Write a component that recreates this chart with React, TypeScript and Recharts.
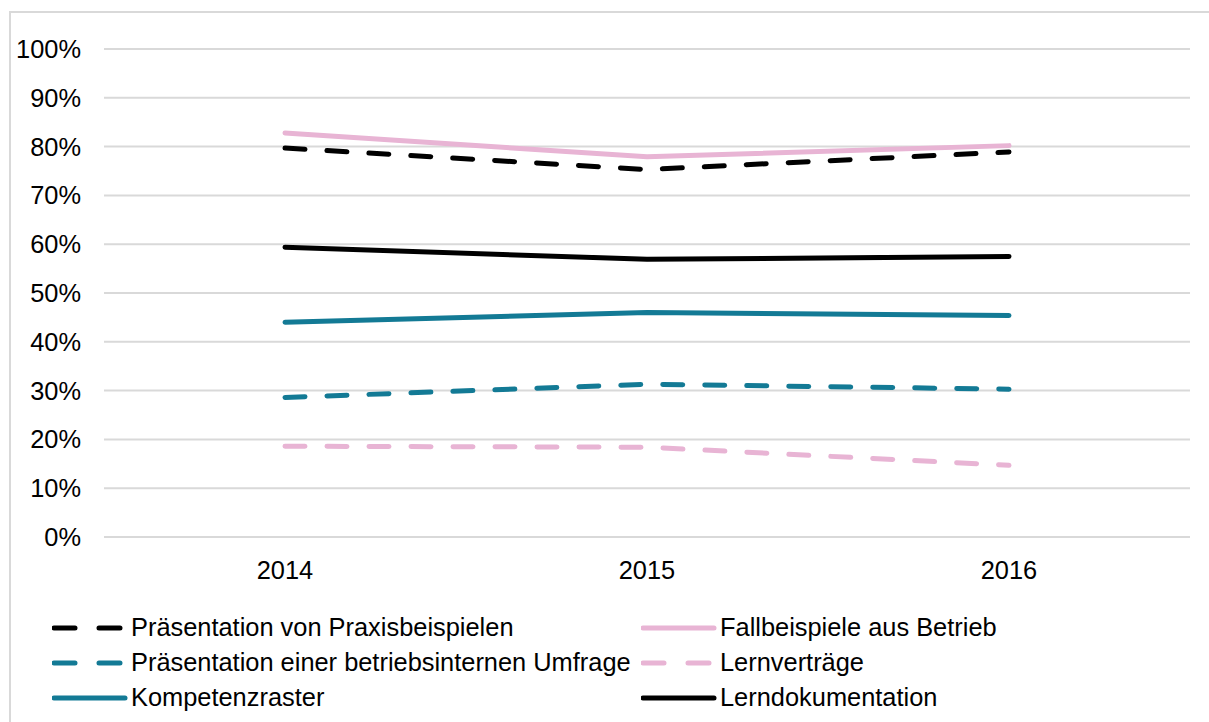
import { LineChart, Line, XAxis, YAxis, CartesianGrid } from 'recharts';

// Jahre (Kategorien)
const years = ['2014', '2015', '2016'];

// Anteile in Prozent
const praxisbeispiele = [79.7, 75.3, 78.9];
const fallbeispiele = [82.8, 77.9, 80.2];
const umfrage = [28.6, 31.3, 30.3];
const lernvertraege = [18.6, 18.4, 14.7];
const kompetenzraster = [44.0, 46.0, 45.4];
const lerndokumentation = [59.4, 56.9, 57.5];

const yTicks = [0, 10, 20, 30, 40, 50, 60, 70, 80, 90, 100];

const colors = {
  black: '#000000',
  pink: '#e8b4d4',
  teal: '#137a95',
  grid: '#d9d9d9',
  text: '#000000',
};

// Reihenfolge = Legende zeilenweise
const series = [
  { key: 'praxis', name: 'Präsentation von Praxisbeispielen', values: praxisbeispiele, color: colors.black, dashed: true },
  { key: 'fall', name: 'Fallbeispiele aus Betrieb', values: fallbeispiele, color: colors.pink, dashed: false },
  { key: 'umfrage', name: 'Präsentation einer betriebsinternen Umfrage', values: umfrage, color: colors.teal, dashed: true },
  { key: 'lernvertraege', name: 'Lernverträge', values: lernvertraege, color: colors.pink, dashed: true },
  { key: 'kompetenz', name: 'Kompetenzraster', values: kompetenzraster, color: colors.teal, dashed: false },
  { key: 'lerndoku', name: 'Lerndokumentation', values: lerndokumentation, color: colors.black, dashed: false },
];

const chartData = years.map((year, i) => {
  const row: Record<string, any> = { year };
  series.forEach((s) => {
    row[s.key] = s.values[i];
  });
  return row;
});

const font = '"Liberation Sans", Arial, sans-serif';
const fontSize = 25.4;

function LegendItem({ s }: { s: (typeof series)[number] }) {
  return (
    <div style={{ display: 'flex', alignItems: 'center', height: 35 }}>
      <svg width={79} height={10}>
        <line
          x1={2}
          y1={5}
          x2={73}
          y2={5}
          stroke={s.color}
          strokeWidth={5}
          strokeLinecap="round"
          strokeDasharray={s.dashed ? '21 24' : undefined}
        />
      </svg>
      <span>{s.name}</span>
    </div>
  );
}

export default function App() {
  return (
    <div
      style={{
        position: 'fixed',
        left: 0,
        top: 0,
        width: 1209,
        height: 722,
        background: '#fff',
        overflow: 'hidden',
        fontFamily: font,
      }}
    >
      <div
        style={{
          position: 'absolute',
          left: 9,
          top: 11,
          width: 1220,
          height: 730,
          border: `2px solid ${colors.grid}`,
        }}
      />
      <div style={{ position: 'absolute', left: 0, top: 0 }}>
        <LineChart width={1209} height={600} data={chartData} margin={{ top: 49, right: 19, left: 0, bottom: 0 }}>
          <CartesianGrid vertical={false} stroke={colors.grid} strokeWidth={2} />
          <XAxis
            dataKey="year"
            padding={{ left: 181, right: 181 }}
            axisLine={{ stroke: colors.grid, strokeWidth: 2 }}
            tickLine={false}
            tickSize={0}
            tickMargin={24}
            height={63}
            tick={{ fill: colors.text, fontSize, fontFamily: font }}
          />
          <YAxis
            domain={[0, 100]}
            ticks={yTicks}
            interval={0}
            width={104}
            axisLine={false}
            tickLine={false}
            tickSize={0}
            tickMargin={23}
            tickFormatter={(v) => `${v}%`}
            tick={{ fill: colors.text, fontSize, fontFamily: font }}
          />
          {series.map((s) => (
            <Line
              key={s.key}
              type="linear"
              dataKey={s.key}
              name={s.name}
              stroke={s.color}
              strokeWidth={5}
              strokeLinecap="round"
              strokeDasharray={s.dashed ? '20 22' : undefined}
              dot={false}
              activeDot={false}
              isAnimationActive={false}
            />
          ))}
        </LineChart>
      </div>
      <div
        style={{
          position: 'absolute',
          left: 52,
          top: 610,
          display: 'grid',
          gridTemplateColumns: '589px 500px',
          fontSize,
          color: colors.text,
          lineHeight: 1,
        }}
      >
        {series.map((s) => (
          <LegendItem key={s.key} s={s} />
        ))}
      </div>
    </div>
  );
}
